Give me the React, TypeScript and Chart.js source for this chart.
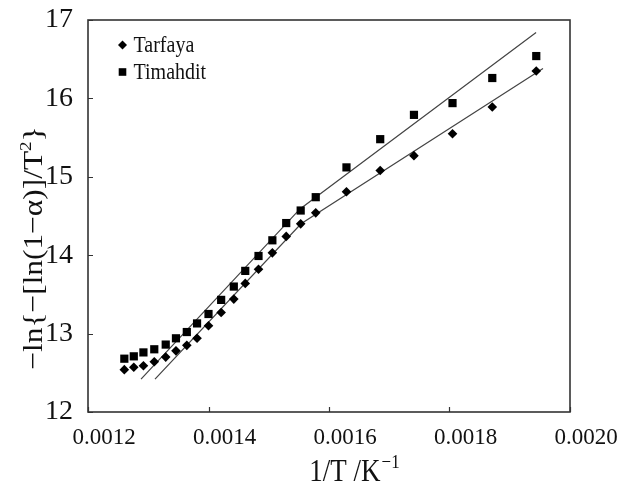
import React, { useEffect, useRef } from 'react';
import { Chart, registerables } from 'chart.js';

Chart.register(...registerables);

const SERIF = "'Liberation Serif', 'Times New Roman', serif";

// 1/T values (K^-1)
const invT = [
  0.0012603, 0.001276, 0.001292, 0.00131, 0.001329, 0.001346, 0.001364, 0.001381,
  0.0014, 0.001421, 0.001442, 0.001461, 0.001483, 0.001506, 0.001529, 0.001553,
  0.001578, 0.001629, 0.001685, 0.001741, 0.001805, 0.001871, 0.001944,
];
const tarfaya = [
  12.54, 12.57, 12.59, 12.64, 12.7, 12.78, 12.85, 12.94, 13.1, 13.27, 13.44, 13.64,
  13.82, 14.03, 14.24, 14.4, 14.54, 14.81, 15.08, 15.27, 15.55, 15.89, 16.35,
];
const timahdit = [
  12.68, 12.71, 12.76, 12.8, 12.86, 12.94, 13.02, 13.13, 13.25, 13.43, 13.6, 13.8,
  13.99, 14.19, 14.41, 14.57, 14.74, 15.12, 15.48, 15.79, 15.94, 16.26, 16.54,
];
// fitted straight-line segments
const tarfayaFitX = [0.0013112, 0.0015536, 0.0019552];
const tarfayaFitY = [12.42, 14.4, 16.38];
const timahditFitX = [0.001288, 0.0015519, 0.0019437];
const timahditFitY = [12.42, 14.59, 16.84];

const xTicks = [0.0012, 0.0014, 0.0016, 0.0018, 0.002];
const yTicks = [12, 13, 14, 15, 16, 17];
const seriesNames = ['Tarfaya', 'Timahdit'];
const xTitle = '1/T /K';
const xTitleSup = '\u22121';
const yTitle = '\u2212ln{\u2212[ln(1\u2212\u03b1)]/T';
const yTitleSup = '2';
const yTitleEnd = '}';

const toPts = (xs: number[], ys: number[]) => xs.map((x, i) => ({ x, y: ys[i] }));

const decorPlugin = {
  id: 'decor',
  afterDraw(chart: any) {
    const { ctx, chartArea: a, scales } = chart;
    ctx.save();
    // inward ticks
    ctx.strokeStyle = '#333';
    ctx.lineWidth = 1.2;
    ctx.beginPath();
    for (const v of xTicks) {
      const px = Math.round(scales.x.getPixelForValue(v)) + 0.5;
      ctx.moveTo(px, a.bottom);
      ctx.lineTo(px, a.bottom - 5);
    }
    for (const v of yTicks) {
      const py = Math.round(scales.y.getPixelForValue(v)) + 0.5;
      ctx.moveTo(a.left, py);
      ctx.lineTo(a.left + 5, py);
    }
    ctx.stroke();
    // frame
    ctx.lineWidth = 1.6;
    ctx.strokeRect(a.left, a.top, a.right - a.left, a.bottom - a.top);

    // legend
    ctx.fillStyle = '#000';
    const lx = a.left + 34.5;
    const ly1 = a.top + 25;
    const ly2 = a.top + 52;
    ctx.beginPath();
    ctx.moveTo(lx, ly1 - 4.5);
    ctx.lineTo(lx + 4.5, ly1);
    ctx.lineTo(lx, ly1 + 4.5);
    ctx.lineTo(lx - 4.5, ly1);
    ctx.closePath();
    ctx.fill();
    ctx.fillRect(lx - 3.8, ly2 - 3.8, 7.6, 7.6);
    ctx.fillStyle = '#111';
    ctx.textAlign = 'left';
    ctx.textBaseline = 'alphabetic';
    ctx.font = `20px ${SERIF}`;
    ctx.save();
    ctx.translate(lx + 11, ly1 + 7);
    ctx.scale(1, 1.15);
    ctx.fillText(seriesNames[0], 0, 0);
    ctx.restore();
    ctx.save();
    ctx.translate(lx + 11, ly2 + 7);
    ctx.scale(1, 1.15);
    ctx.fillText(seriesNames[1], 0, 0);
    ctx.restore();

    // x title
    ctx.font = `27px ${SERIF}`;
    const wMain = ctx.measureText(xTitle).width;
    ctx.font = `17px ${SERIF}`;
    const wSup = ctx.measureText(xTitleSup).width;
    const xStart = 354 - (wMain + wSup) / 2;
    ctx.save();
    ctx.translate(xStart, 481);
    ctx.scale(1, 1.15);
    ctx.font = `27px ${SERIF}`;
    ctx.fillText(xTitle, 0, 0);
    ctx.font = `17px ${SERIF}`;
    ctx.fillText(xTitleSup, wMain + 1, -11);
    ctx.restore();

    // y title (rotated)
    ctx.save();
    ctx.translate(42, 248);
    ctx.rotate(-Math.PI / 2);
    ctx.scale(1.12, 1);
    ctx.font = `28px ${SERIF}`;
    const w1 = ctx.measureText(yTitle).width;
    const w3 = ctx.measureText(yTitleEnd).width;
    ctx.font = `17px ${SERIF}`;
    const w2 = ctx.measureText(yTitleSup).width;
    let x0 = -(w1 + w2 + w3) / 2;
    ctx.font = `28px ${SERIF}`;
    ctx.fillText(yTitle, x0, 0);
    x0 += w1;
    ctx.font = `17px ${SERIF}`;
    ctx.fillText(yTitleSup, x0, -11);
    x0 += w2;
    ctx.font = `28px ${SERIF}`;
    ctx.fillText(yTitleEnd, x0, 0);
    ctx.restore();

    ctx.restore();
  },
};

export default function App() {
  const ref = useRef<HTMLCanvasElement | null>(null);
  useEffect(() => {
    if (!ref.current) return;
    const chart = new Chart(ref.current, {
      type: 'scatter',
      data: {
        datasets: [
          {
            label: seriesNames[0],
            data: toPts(invT, tarfaya),
            pointStyle: 'rectRot',
            pointRadius: 4.8,
            backgroundColor: '#000',
            borderColor: '#000',
            borderWidth: 0,
            order: 0,
          },
          {
            label: seriesNames[1],
            data: toPts(invT, timahdit),
            pointStyle: 'rect',
            pointRadius: 5.8,
            backgroundColor: '#000',
            borderColor: '#000',
            borderWidth: 0,
            order: 0,
          },
          {
            label: 'fit1',
            data: toPts(tarfayaFitX, tarfayaFitY),
            showLine: true,
            pointRadius: 0,
            borderColor: '#444',
            borderWidth: 1.2,
            order: 1,
          },
          {
            label: 'fit2',
            data: toPts(timahditFitX, timahditFitY),
            showLine: true,
            pointRadius: 0,
            borderColor: '#444',
            borderWidth: 1.2,
            order: 1,
          },
        ],
      },
      options: {
        animation: false,
        responsive: false,
        devicePixelRatio: 1,
        layout: { padding: { top: 20, right: 48, left: 0, bottom: 0 } },
        plugins: { legend: { display: false }, tooltip: { enabled: false } },
        scales: {
          x: {
            type: 'linear',
            min: 0.0012,
            max: 0.002,
            afterBuildTicks: (s: any) => {
              s.ticks = xTicks.map((v) => ({ value: v }));
            },
            afterFit: (s: any) => {
              s.height = 73;
              s.paddingLeft = 0;
              s.paddingRight = 0;
            },
            ticks: {
              callback: (v: any) => Number(v).toFixed(4),
              font: { family: SERIF, size: 23 },
              color: '#111',
              padding: 12,
              labelOffset: 16,
              maxRotation: 0,
              autoSkip: false,
            },
            grid: { display: false, drawTicks: false },
            border: { display: false },
          },
          y: {
            type: 'linear',
            min: 12,
            max: 17,
            afterBuildTicks: (s: any) => {
              s.ticks = yTicks.map((v) => ({ value: v }));
            },
            afterFit: (s: any) => {
              s.width = 88;
              s.paddingTop = 0;
              s.paddingBottom = 0;
            },
            ticks: {
              callback: (v: any) => String(v),
              font: { family: SERIF, size: 28 },
              color: '#111',
              padding: 15,
            },
            grid: { display: false, drawTicks: false },
            border: { display: false },
          },
        },
      },
      plugins: [decorPlugin],
    });
    return () => chart.destroy();
  }, []);
  return (
    <div style={{ position: 'fixed', left: 0, top: 0, width: 618, height: 485, background: '#fff' }}>
      <canvas ref={ref} width={618} height={485} style={{ width: 618, height: 485, display: 'block' }} />
    </div>
  );
}
